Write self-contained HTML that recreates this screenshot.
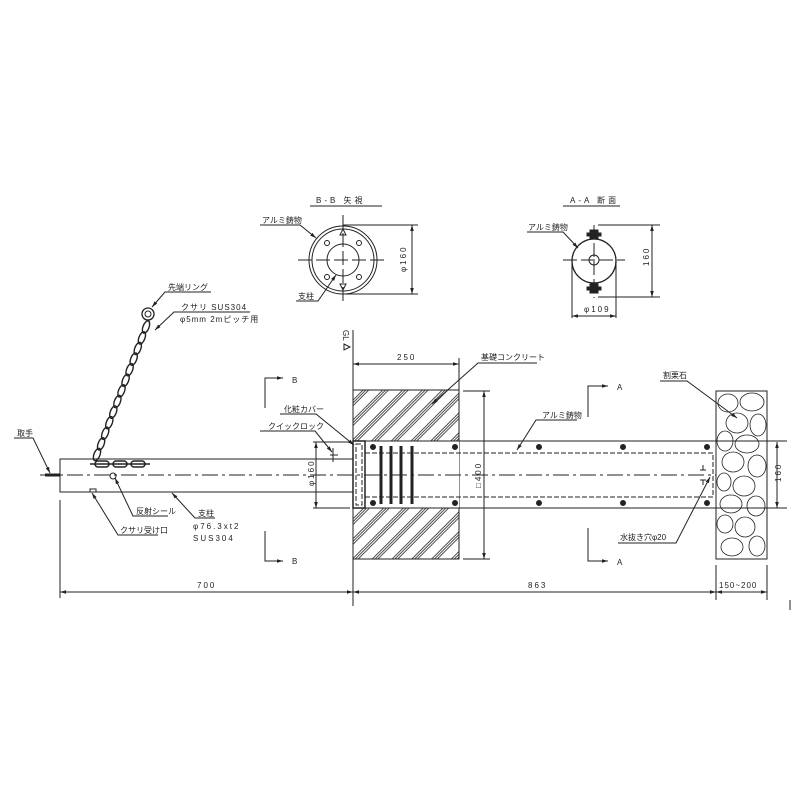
<!DOCTYPE html><html><head><meta charset="utf-8"><style>body{margin:0;background:#fff}svg{display:block}text{font-family:"Liberation Sans","Noto Sans CJK JP",sans-serif;font-size:8px;fill:#222}</style></head><body>
<svg width="800" height="800" viewBox="0 0 800 800" stroke="#222" fill="none" stroke-width="1">
<defs><marker id="a" viewBox="0 0 10 10" refX="10" refY="5" markerWidth="6" markerHeight="6" orient="auto-start-reverse"><path d="M0,2L10,5L0,8" fill="#222" stroke="none"/></marker>
<pattern id="h" width="14" height="14" patternUnits="userSpaceOnUse" patternTransform="rotate(45)"><g stroke="#222" stroke-width="0.8"><line x1="0.5" y1="0" x2="0.5" y2="14"/><line x1="2.5" y1="0" x2="2.5" y2="14"/><line x1="4.5" y1="0" x2="4.5" y2="14"/></g></pattern></defs>
<!-- B-B view -->
<text x="316" y="203" stroke="none" letter-spacing="3">B-B 矢視</text><line x1="310" y1="206" x2="382" y2="206"/>
<circle cx="343" cy="260" r="34"/><circle cx="343" cy="260" r="31"/><circle cx="343" cy="260" r="16"/>
<g stroke-dasharray="14,4"><line x1="298" y1="260" x2="388" y2="260"/><line x1="343" y1="215" x2="343" y2="305"/></g>
<circle cx="327" cy="243" r="2.5"/><circle cx="359" cy="243" r="2.5"/><circle cx="327" cy="277" r="2.5"/><circle cx="359" cy="277" r="2.5"/>
<path d="M340,235L343,229L346,235Z M340,284L343,290L346,284Z"/>
<line x1="343" y1="225" x2="418" y2="225"/><line x1="343" y1="294" x2="418" y2="294"/><line x1="412" y1="225" x2="412" y2="294" marker-start="url(#a)" marker-end="url(#a)"/>
<text transform="translate(406,272) rotate(-90)" stroke="none" letter-spacing="2">φ160</text>
<text x="262" y="223" stroke="none" font-size="7">アルミ鋳物</text><path d="M260,225H300L316,238" marker-end="url(#a)"/>
<text x="298" y="299" stroke="none" font-size="7">支柱</text><path d="M296,301H318L336,275" marker-end="url(#a)"/>
<!-- A-A -->
<text x="570" y="203" stroke="none" letter-spacing="3">A-A 断面</text><line x1="563" y1="206" x2="620" y2="206"/>
<circle cx="594" cy="261" r="22" stroke-width="1.3"/><circle cx="594" cy="260" r="5"/>
<g stroke-dasharray="14,4"><line x1="563" y1="260" x2="625" y2="260"/><line x1="594" y1="225" x2="594" y2="298"/></g>
<g fill="#222"><rect x="590" y="230" width="8" height="9"/><rect x="587" y="233" width="14" height="3"/><rect x="590" y="284" width="8" height="9"/><rect x="587" y="287" width="14" height="3"/></g>
<line x1="598" y1="225" x2="660" y2="225"/><line x1="598" y1="297" x2="660" y2="297"/><line x1="652" y1="225" x2="652" y2="297" marker-start="url(#a)" marker-end="url(#a)"/>
<text transform="translate(649,266) rotate(-90)" stroke="none" letter-spacing="2">160</text>
<line x1="572" y1="262" x2="572" y2="318"/><line x1="616" y1="262" x2="616" y2="318"/><line x1="572" y1="316" x2="616" y2="316" marker-start="url(#a)" marker-end="url(#a)"/>
<text x="584" y="312" stroke="none" letter-spacing="2">φ109</text>
<text x="528" y="230" stroke="none" font-size="7">アルミ鋳物</text><path d="M527,232H563L578,248" marker-end="url(#a)"/>
<!-- GL line -->
<line x1="353" y1="330" x2="353" y2="606"/><path d="M344,344L350,347L344,350Z"/><text transform="translate(343,330) rotate(90)" stroke="none" font-size="6">GL</text>
<!-- concrete -->
<rect x="353" y="390" width="106" height="51" fill="url(#h)"/><rect x="353" y="508" width="106" height="51" fill="url(#h)"/>
<rect x="353" y="390" width="106" height="169"/>
<rect x="356" y="441" width="103" height="67" fill="#fff" stroke="none"/>
<!-- channel -->
<line x1="353" y1="441" x2="787" y2="441"/><line x1="353" y1="508" x2="787" y2="508"/>
<rect x="365" y="453" width="348" height="44" stroke-dasharray="5,2"/>
<rect x="353" y="441" width="12" height="67" stroke-width="1.5"/><rect x="356" y="444" width="6" height="61" stroke-dasharray="5,2"/>
<g fill="#222"><circle cx="373" cy="447" r="2.5"/><circle cx="455" cy="447" r="2.5"/><circle cx="539" cy="447" r="2.5"/><circle cx="623" cy="447" r="2.5"/><circle cx="707" cy="447" r="2.5"/><circle cx="373" cy="503" r="2.5"/><circle cx="455" cy="503" r="2.5"/><circle cx="539" cy="503" r="2.5"/><circle cx="623" cy="503" r="2.5"/><circle cx="707" cy="503" r="2.5"/></g>
<g stroke-width="3"><line x1="381" y1="446" x2="381" y2="504"/><line x1="391" y1="446" x2="391" y2="504"/><line x1="401" y1="446" x2="401" y2="504"/><line x1="412" y1="446" x2="412" y2="504"/></g>
<line x1="40" y1="475" x2="716" y2="475" stroke-dasharray="16,4,3,4"/>
<path d="M703,465V470M700,470H706M703,480V485M700,480H706"/>
<!-- stones -->
<rect x="716" y="391" width="51" height="168"/>
<g stroke-width="0.8"><ellipse cx="728" cy="403" rx="10" ry="9"/><ellipse cx="752" cy="402" rx="12" ry="9"/><ellipse cx="737" cy="423" rx="11" ry="10"/><ellipse cx="758" cy="425" rx="8" ry="11"/><ellipse cx="725" cy="441" rx="8" ry="10"/><ellipse cx="747" cy="444" rx="12" ry="9"/><ellipse cx="733" cy="462" rx="11" ry="10"/><ellipse cx="757" cy="466" rx="9" ry="11"/><ellipse cx="724" cy="482" rx="7" ry="9"/><ellipse cx="744" cy="486" rx="11" ry="10"/><ellipse cx="731" cy="504" rx="11" ry="9"/><ellipse cx="756" cy="506" rx="9" ry="10"/><ellipse cx="725" cy="524" rx="8" ry="9"/><ellipse cx="745" cy="527" rx="10" ry="10"/><ellipse cx="732" cy="547" rx="11" ry="9"/><ellipse cx="757" cy="546" rx="8" ry="10"/></g>
<!-- dims -->
<line x1="459" y1="358" x2="459" y2="390"/><line x1="353" y1="364" x2="459" y2="364" marker-start="url(#a)" marker-end="url(#a)"/><text x="397" y="360" stroke="none" letter-spacing="2">250</text>
<line x1="463" y1="391" x2="490" y2="391"/><line x1="463" y1="559" x2="490" y2="559"/><line x1="484" y1="391" x2="484" y2="559" marker-start="url(#a)" marker-end="url(#a)"/>
<text transform="translate(481,488) rotate(-90)" stroke="none" letter-spacing="2">□400</text>
<line x1="777" y1="442" x2="777" y2="508" marker-start="url(#a)" marker-end="url(#a)"/><text transform="translate(781,482) rotate(-90)" stroke="none" letter-spacing="2">160</text>
<line x1="716" y1="565" x2="716" y2="600"/><line x1="767" y1="565" x2="767" y2="600"/><line x1="60" y1="500" x2="60" y2="598"/>
<line x1="60" y1="592" x2="353" y2="592" marker-start="url(#a)" marker-end="url(#a)"/><text x="197" y="588" stroke="none" letter-spacing="2">700</text>
<line x1="353" y1="592" x2="716" y2="592" marker-start="url(#a)" marker-end="url(#a)"/><text x="528" y="588" stroke="none" letter-spacing="2">863</text>
<line x1="716" y1="592" x2="767" y2="592" marker-start="url(#a)" marker-end="url(#a)"/><text x="719" y="588" stroke="none" letter-spacing="1">150~200</text>
<line x1="790" y1="600" x2="790" y2="610"/>
<!-- post -->
<rect x="60" y="459" width="293" height="33"/><path d="M45,475H60" stroke-width="3"/>
<line x1="313" y1="442" x2="350" y2="442"/><line x1="313" y1="508" x2="350" y2="508"/><line x1="316" y1="442" x2="316" y2="508" marker-start="url(#a)" marker-end="url(#a)"/>
<text transform="translate(314,486) rotate(-90)" stroke="none" letter-spacing="2">φ160</text>
<!-- chain -->
<circle cx="148" cy="314" r="6" stroke-width="1.3"/><circle cx="148" cy="314" r="3"/>
<g stroke-width="1.4">
<ellipse cx="146" cy="327" rx="6.5" ry="3" transform="rotate(111 146 327)"/>
<ellipse cx="141.9" cy="337.9" rx="6.5" ry="3" transform="rotate(111 141.9 337.9)"/>
<ellipse cx="137.8" cy="348.5" rx="6.5" ry="3" transform="rotate(111 137.8 348.5)"/>
<ellipse cx="133.7" cy="359.1" rx="6.5" ry="3" transform="rotate(111 133.7 359.1)"/>
<ellipse cx="129.6" cy="369.7" rx="6.5" ry="3" transform="rotate(111 129.6 369.7)"/>
<ellipse cx="125.6" cy="380.3" rx="6.5" ry="3" transform="rotate(111 125.6 380.3)"/>
<ellipse cx="121.5" cy="390.9" rx="6.5" ry="3" transform="rotate(111 121.5 390.9)"/>
<ellipse cx="117.4" cy="401.5" rx="6.5" ry="3" transform="rotate(111 117.4 401.5)"/>
<ellipse cx="113.3" cy="412.1" rx="6.5" ry="3" transform="rotate(111 113.3 412.1)"/>
<ellipse cx="109.3" cy="422.7" rx="6.5" ry="3" transform="rotate(111 109.3 422.7)"/>
<ellipse cx="105.2" cy="433.3" rx="6.5" ry="3" transform="rotate(111 105.2 433.3)"/>
<ellipse cx="101.1" cy="443.9" rx="6.5" ry="3" transform="rotate(111 101.1 443.9)"/>
<ellipse cx="97" cy="454.5" rx="6.5" ry="3" transform="rotate(111 97 454.5)"/>
</g>
<g fill="none" stroke-width="1.5"><rect x="95" y="461" width="14" height="6" rx="3"/><rect x="113" y="461" width="14" height="6" rx="3"/><rect x="131" y="461" width="14" height="6" rx="3"/><line x1="90" y1="464" x2="150" y2="464"/></g>
<circle cx="113" cy="476" r="3"/><rect x="90" y="489" width="6" height="3"/>
<!-- B/A section marks -->
<path d="M265,408V378H283" marker-end="url(#a)"/><text x="292" y="383" stroke="none">B</text>
<path d="M265,531V561H283" marker-end="url(#a)"/><text x="292" y="564" stroke="none">B</text>
<path d="M588,417V386H608" marker-end="url(#a)"/><text x="617" y="390" stroke="none">A</text>
<path d="M588,528V561H608" marker-end="url(#a)"/><text x="617" y="565" stroke="none">A</text>
<!-- labels -->
<text x="168" y="290" stroke="none" font-size="7">先端リング</text><path d="M211,292H165L152,307" marker-end="url(#a)"/>
<text x="181" y="310" stroke="none" font-size="7" letter-spacing="1">クサリ SUS304</text><path d="M250,312H174L155,330" marker-end="url(#a)"/>
<text x="180" y="322" stroke="none" font-size="7" letter-spacing="1">φ5mm 2mピッチ用</text>
<text x="17" y="436" stroke="none" font-size="7">取手</text><path d="M14,438H33L50,473" marker-end="url(#a)"/>
<text x="136" y="514" stroke="none" font-size="7">反射シール</text><path d="M168,516H133L115,478" marker-end="url(#a)"/>
<text x="120" y="533" stroke="none" font-size="7">クサリ受け口</text><path d="M158,535H118L92,493" marker-end="url(#a)"/>
<text x="198" y="516" stroke="none" font-size="7">支柱</text><path d="M215,518H195L172,493" marker-end="url(#a)"/>
<text x="193" y="529" stroke="none" font-size="7" letter-spacing="2">φ76.3xt2</text><text x="193" y="541" stroke="none" font-size="7" letter-spacing="2">SUS304</text>
<text x="284" y="412" stroke="none" font-size="7">化粧カバー</text><path d="M280,414H316L354,445" marker-end="url(#a)"/>
<text x="268" y="429" stroke="none" font-size="7">クイックロック</text><path d="M260,431H315L332,452" marker-end="url(#a)"/><path d="M333,448V462M330,455H338"/>
<text x="481" y="360" stroke="none" font-size="7">基礎コンクリート</text><path d="M537,363H478L432,404" marker-end="url(#a)"/>
<text x="542" y="418" stroke="none" font-size="7">アルミ鋳物</text><path d="M577,420H536L517,450" marker-end="url(#a)"/>
<text x="663" y="378" stroke="none" font-size="7">割栗石</text><path d="M660,381H687L737,418" marker-end="url(#a)"/>
<text x="620" y="540" stroke="none" font-size="7">水抜き穴φ20</text><path d="M618,543H676L710,477" marker-end="url(#a)"/>
</svg></body></html>
